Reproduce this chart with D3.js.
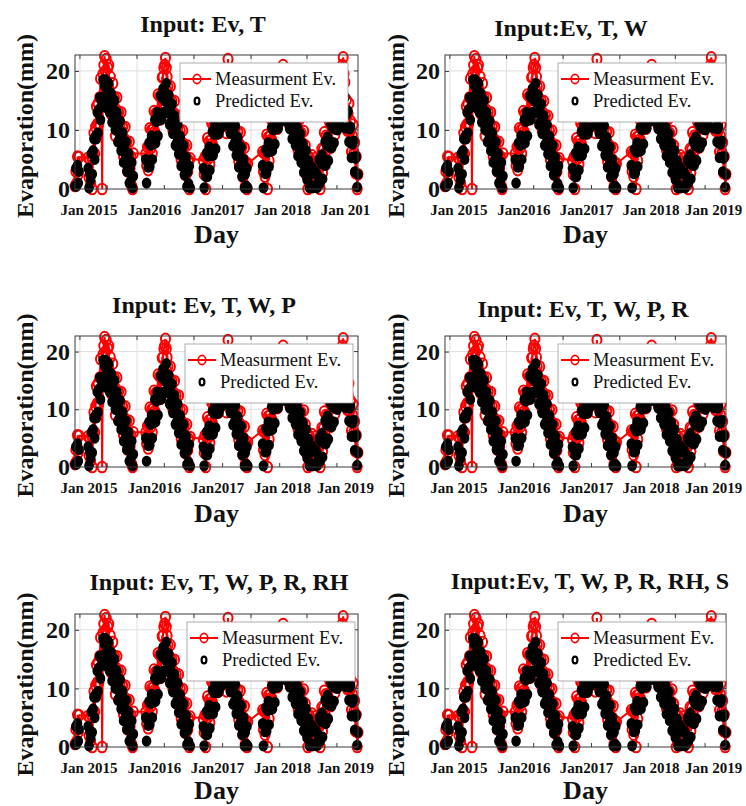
<!DOCTYPE html>
<html>
<head>
<meta charset="utf-8">
<script src="https://cdn.jsdelivr.net/npm/d3@7"></script>
<style>
  body { margin: 0; background: #fff; }
  text { font-family: "Liberation Serif", "Times New Roman", serif; fill: #111; }
</style>
</head>
<body>
<svg width="746" height="806"></svg>
<script>
// panel titles (one per model)
const titles = [
  "Input: Ev, T",
  "Input:Ev, T, W",
  "Input: Ev, T, W, P",
  "Input: Ev, T, W, P, R",
  "Input: Ev, T, W, P, R, RH",
  "Input:Ev, T, W, P, R, RH, S"
];

// x axis: day index, tick labels placed where the figure shows them
const dayMax = 1720;
const tickLabelDays = [82, 480, 863, 1258, 1641];
const tickLabels = ["Jan 2015", "Jan2016", "Jan2017", "Jan 2018", "Jan 2019"];
const tickLabelsFirst = ["Jan 2015", "Jan2016", "Jan2017", "Jan 2018", "Jan 201"];
const gridDays = [30, 377, 723, 1070, 1410];
const bottomTickDays = [195, 543, 897, 1244, 1592];
const yTicks = [0, 10, 20];
const yMax = 22.7;

// measured / predicted evaporation (mm), one value every 5 days inside each season
const stepDays = 5;
const seasonStart = [0, 80, 430, 780, 1140, 1465];

const meas2014 = [0.5, 3.0, 1.0, 5.5, 2.5, 5.4];
const meas2015 = [
  5.3, 2.0, 5.0, 1.0, 5.5, 0.0, 6.0, 9.5, 6.0, 10.5,
  14.0, 11.0, 14.5, 11.0, 15.5, 18.7, 15.5, 0.0, 19.5, 21.0,
  22.5, 20.0, 22.0, 17.5, 20.5, 21.0, 15.5, 19.0, 12.7, 15.8,
  17.9, 13.5, 15.5, 9.0, 13.5, 15.5, 11.0, 13.0, 8.0, 11.0,
  13.0, 8.5, 10.5, 5.5, 8.5, 10.5, 6.0, 8.0, 3.0, 6.0,
  8.0, 3.5, 5.5, 0.5, 0.0, 6.0
];
const meas2016 = [
  6.0, 4.0, 7.1, 3.2, 7.3, 10.3, 6.9, 10.0, 6.0, 10.1,
  13.2, 9.7, 12.8, 8.9, 13.0, 16.0, 12.6, 15.7, 11.8, 15.8,
  18.9, 19.0, 20.5, 21.0, 22.2, 20.5, 19.0, 17.4, 12.4, 15.4,
  17.4, 12.9, 14.9, 9.9, 12.9, 14.9, 10.4, 12.4, 7.4, 10.4,
  12.4, 7.9, 9.9, 4.9, 7.9, 9.9, 5.4, 7.4, 2.4, 5.4,
  7.4, 2.9, 4.9, 0.0, 5.2
];
const meas2017 = [
  4.8, 2.5, 5.5, 0.0, 5.6, 8.6, 5.1, 8.1, 4.2, 8.2,
  11.2, 7.7, 10.7, 6.8, 10.8, 13.8, 10.3, 13.3, 9.4, 13.4,
  16.4, 12.9, 15.9, 12.0, 18.0, 19.0, 18.5, 20.0, 9.5, 18.5,
  22.0, 12.9, 14.9, 9.9, 12.8, 14.8, 10.3, 12.3, 7.3, 10.2,
  12.2, 7.7, 9.7, 4.7, 7.6, 9.6, 5.1, 7.1, 2.1, 5.0,
  7.0, 0.5, 4.5, 0.0, 4.3
];
const meas2018 = [
  6.3, 3.0, 6.1, 2.1, 6.2, 9.2, 0.0, 8.8, 4.8, 8.9,
  11.9, 8.4, 11.5, 7.5, 11.6, 14.6, 11.1, 14.2, 10.2, 14.3,
  17.3, 13.8, 16.9, 18.5, 20.0, 21.0, 19.0, 17.7, 12.8, 15.9,
  18.0, 13.5, 15.6, 10.7, 13.8, 15.9, 11.5, 13.6, 8.7, 11.8,
  13.9, 9.4, 11.5, 6.6, 9.7, 11.8, 7.4, 9.5, 4.6, 7.7,
  9.8, 5.3, 7.4, 2.5, 5.6, 0.0, 3.3, 5.4, 0.5, 3.6,
  5.7, 1.3
];
const meas2019 = [
  5.3, 1.7, 4.7, 0.6, 4.5, 0.0, 3.9, 6.8, 2.7, 6.7,
  9.6, 6.0, 9.0, 4.9, 8.8, 11.8, 8.2, 11.1, 7.0, 11.0,
  13.9, 10.3, 13.3, 9.2, 13.1, 16.1, 12.5, 15.4, 11.3, 18.0,
  20.0, 19.0, 21.0, 22.3, 19.5, 18.1, 13.3, 15.1, 9.9, 12.7,
  14.5, 9.7, 11.5, 6.3, 9.1, 10.9, 6.1, 7.9, 2.7, 5.5,
  0.0, 2.5
];

const pred2014 = [0.5, 3.5, 0.5, 4.0, 1.0, 3.0];
const pred2015 = [
  3.5, 0.2, 2.5, 1.5, 6.0, 2.5, 6.5, 8.5, 5.0, 9.0,
  8.5, 13.0, 9.5, 13.5, 15.5, 11.7, 15.5, 14.5, 18.5, 14.3,
  17.5, 18.5, 13.8, 16.5, 14.7, 17.9, 13.0, 15.6, 16.2, 11.3,
  13.9, 12.0, 15.0, 10.0, 12.5, 13.0, 8.0, 10.5, 8.5, 11.5,
  6.5, 9.0, 9.5, 4.5, 7.0, 5.0, 8.0, 3.0, 5.5, 6.0,
  1.0, 3.5, 1.5, 4.5, 0.2, 2.2
];
const pred2016 = [
  5.0, 1.0, 4.6, 3.7, 7.8, 3.8, 7.4, 9.0, 5.0, 8.6,
  7.7, 11.7, 7.8, 11.4, 13.0, 9.0, 12.6, 11.7, 15.8, 11.8,
  15.4, 17.0, 13.0, 16.5, 14.8, 17.9, 12.9, 15.4, 15.9, 10.9,
  13.4, 11.4, 14.4, 9.4, 11.9, 12.4, 7.4, 9.9, 7.9, 10.9,
  5.9, 8.4, 8.9, 3.9, 6.4, 4.4, 7.4, 2.4, 4.9, 5.4,
  0.4, 2.9, 0.9, 3.9, 0.2
];
const pred2017 = [
  3.5, 0.2, 3.0, 2.1, 6.1, 2.1, 5.6, 7.1, 3.2, 6.7,
  5.7, 9.7, 5.7, 9.3, 10.8, 6.8, 10.3, 9.3, 13.4, 9.4,
  12.9, 14.4, 10.4, 14.0, 13.0, 17.0, 13.0, 15.5, 16.0, 10.9,
  13.4, 11.4, 14.4, 9.4, 11.8, 12.3, 7.3, 9.8, 7.8, 10.7,
  5.7, 8.2, 8.7, 3.7, 6.1, 4.1, 7.1, 2.1, 4.6, 5.0,
  0.2, 2.5, 0.5, 3.5, 0.2
];
const pred2018 = [
  4.0, 0.2, 3.6, 2.6, 6.7, 2.7, 6.2, 7.8, 3.8, 7.4,
  6.4, 10.4, 6.5, 10.0, 11.6, 7.6, 11.1, 10.2, 14.2, 10.3,
  13.8, 15.3, 11.4, 14.9, 14.0, 18.0, 13.1, 15.7, 16.3, 11.4,
  14.0, 12.0, 15.1, 10.2, 12.8, 13.4, 8.5, 11.1, 9.2, 12.3,
  7.4, 9.9, 10.5, 5.6, 8.2, 6.3, 9.4, 4.5, 7.1, 7.7,
  2.8, 5.3, 3.4, 6.5, 1.6, 4.2, 4.8, 0.2, 2.5, 0.6,
  3.7, 0.2
];
const pred2019 = [
  2.8, 0.2, 2.2, 1.1, 5.0, 1.0, 4.4, 5.8, 1.7, 5.2,
  4.1, 8.0, 4.0, 7.4, 8.8, 4.8, 8.2, 7.1, 11.0, 7.0,
  10.4, 11.8, 7.8, 11.2, 10.1, 14.1, 10.0, 13.4, 14.8, 10.8,
  14.2, 13.1, 17.1, 13.0, 15.3, 15.6, 10.3, 12.6, 10.4, 13.2,
  8.0, 10.2, 10.5, 5.3, 7.6, 5.4, 8.1, 2.9, 5.2, 5.5,
  0.3, 2.5
];

const measSeasons = [meas2014, meas2015, meas2016, meas2017, meas2018, meas2019];
const predSeasons = [pred2014, pred2015, pred2016, pred2017, pred2018, pred2019];

function toPoints(seasons) {
  return seasons.flatMap((vals, s) =>
    vals.map((v, i) => ({ day: seasonStart[s] + i * stepDays, v: v })));
}
const measured = toPoints(measSeasons);
const predicted = toPoints(predSeasons);

// layout of the 3x2 grid of panels
const rows = [
  { top: 55,  bottom: 189, day: 243 },
  { top: 336, bottom: 467, day: 522 },
  { top: 614, bottom: 747, day: 799 }
];
const cols = [
  { x0: 75,  x1: 358, ylab: 33 },
  { x0: 445, x1: 726, ylab: 404 }
];
const panels = [
  { row: 0, col: 0, tx: 203, ty: 32,  legRight: 10 },
  { row: 0, col: 1, tx: 571, ty: 36,  legRight: 0 },
  { row: 1, col: 0, tx: 204, ty: 313, legRight: 5 },
  { row: 1, col: 1, tx: 583, ty: 317, legRight: 0 },
  { row: 2, col: 0, tx: 219, ty: 590, legRight: 3 },
  { row: 2, col: 1, tx: 590, ty: 589, legRight: 0 }
];

const svg = d3.select("svg");

panels.forEach(function (p, k) {
  const r = rows[p.row], c = cols[p.col];
  const g = svg.append("g");

  const x = d3.scaleLinear().domain([0, dayMax]).range([c.x0, c.x1]);
  const y = d3.scaleLinear().domain([0, yMax]).range([r.bottom, r.top]);

  // title
  g.append("text")
    .attr("x", p.tx).attr("y", p.ty)
    .attr("text-anchor", "middle")
    .attr("font-size", "24px").attr("font-weight", "bold")
    .text(titles[k]);

  // grid
  g.append("g").selectAll("line")
    .data(gridDays)
    .join("line")
    .attr("x1", d => x(d)).attr("x2", d => x(d))
    .attr("y1", r.top).attr("y2", r.bottom)
    .attr("stroke", "#dedede").attr("stroke-width", 1);
  g.append("g").selectAll("line")
    .data(yTicks.filter(d => d > 0))
    .join("line")
    .attr("x1", c.x0).attr("x2", c.x1)
    .attr("y1", d => y(d)).attr("y2", d => y(d))
    .attr("stroke", "#dedede").attr("stroke-width", 1);

  // measured: red line + open circles
  g.append("path")
    .datum(measured)
    .attr("fill", "none")
    .attr("stroke", "#ff0000")
    .attr("stroke-width", 2)
    .attr("d", d3.line().x(d => x(d.day)).y(d => y(d.v)));
  g.append("g").selectAll("ellipse")
    .data(measured)
    .join("ellipse")
    .attr("cx", d => x(d.day)).attr("cy", d => y(d.v))
    .attr("rx", 4.5).attr("ry", 5.3)
    .attr("fill", "none")
    .attr("stroke", "#ff0000").attr("stroke-width", 2);

  // predicted: black circles (so dense in the original that they read as solid)
  g.append("g").selectAll("ellipse")
    .data(predicted)
    .join("ellipse")
    .attr("cx", d => x(d.day)).attr("cy", d => y(d.v))
    .attr("rx", 3.7).attr("ry", 4.5)
    .attr("fill", "#000")
    .attr("stroke", "#000").attr("stroke-width", 2.2);

  // box + inward ticks
  g.append("rect")
    .attr("x", c.x0).attr("y", r.top)
    .attr("width", c.x1 - c.x0).attr("height", r.bottom - r.top)
    .attr("fill", "none").attr("stroke", "#3a3a3a").attr("stroke-width", 1);
  g.append("g").selectAll("line")
    .data(gridDays)
    .join("line")
    .attr("x1", d => x(d)).attr("x2", d => x(d))
    .attr("y1", r.top).attr("y2", r.top + 4)
    .attr("stroke", "#3a3a3a");
  g.append("g").selectAll("line")
    .data(bottomTickDays)
    .join("line")
    .attr("x1", d => x(d)).attr("x2", d => x(d))
    .attr("y1", r.bottom).attr("y2", r.bottom - 4)
    .attr("stroke", "#3a3a3a");
  g.append("g").selectAll("line")
    .data(yTicks)
    .join("line")
    .attr("x1", c.x1).attr("x2", c.x1 - 4)
    .attr("y1", d => y(d)).attr("y2", d => y(d))
    .attr("stroke", "#3a3a3a");

  // y axis
  const yAxis = g.append("g")
    .attr("transform", `translate(${c.x0},0)`)
    .call(d3.axisLeft(y).tickValues(yTicks).tickSizeInner(-4).tickSizeOuter(0).tickPadding(5).tickFormat(d3.format("d")));
  yAxis.select(".domain").remove();
  yAxis.selectAll("line").attr("stroke", "#3a3a3a");
  yAxis.selectAll("text")
    .attr("font-size", "24px").attr("font-weight", "bold")
    .attr("font-family", "Liberation Serif, serif").attr("fill", "#111");

  // x axis labels
  const labels = k === 0 ? tickLabelsFirst : tickLabels;
  const xAxis = g.append("g")
    .attr("transform", `translate(0,${r.bottom})`)
    .call(d3.axisBottom(x).tickValues(tickLabelDays).tickSize(0).tickPadding(15)
      .tickFormat((d, i) => labels[i]));
  xAxis.select(".domain").remove();
  xAxis.selectAll("text")
    .attr("font-size", "15px").attr("font-weight", "bold")
    .attr("font-family", "Liberation Serif, serif").attr("fill", "#111");

  // axis titles
  g.append("text")
    .attr("x", (c.x0 + c.x1) / 2).attr("y", r.day)
    .attr("text-anchor", "middle")
    .attr("font-size", "26px").attr("font-weight", "bold")
    .text("Day");
  g.append("text")
    .attr("transform", `translate(${c.ylab},${(r.top + r.bottom) / 2 + 4}) rotate(-90)`)
    .attr("text-anchor", "middle")
    .attr("font-size", "24px").attr("font-weight", "bold")
    .text("Evaporation(mm)");

  // legend
  const lw = 168, lh = 59;
  const lx = c.x1 - p.legRight - lw, ly = r.top + 8;
  const leg = g.append("g").attr("transform", `translate(${lx},${ly})`);
  leg.append("rect")
    .attr("width", lw).attr("height", lh)
    .attr("fill", "#fff").attr("stroke", "#9a9a9a").attr("stroke-width", 0.8);
  leg.append("line")
    .attr("x1", 3).attr("x2", 31).attr("y1", 16).attr("y2", 16)
    .attr("stroke", "#ff0000").attr("stroke-width", 2);
  leg.append("ellipse")
    .attr("cx", 17).attr("cy", 16).attr("rx", 3.8).attr("ry", 4.6)
    .attr("fill", "none").attr("stroke", "#ff0000").attr("stroke-width", 1.6);
  leg.append("ellipse")
    .attr("cx", 17).attr("cy", 38).attr("rx", 2.4).attr("ry", 3.4)
    .attr("fill", "none").attr("stroke", "#000").attr("stroke-width", 2.2);
  leg.append("text")
    .attr("x", 35).attr("y", 22)
    .attr("font-size", "18.5px")
    .text("Measurment Ev.");
  leg.append("text")
    .attr("x", 35).attr("y", 44)
    .attr("font-size", "18.5px")
    .text("Predicted Ev.");
});
</script>
</body>
</html>
